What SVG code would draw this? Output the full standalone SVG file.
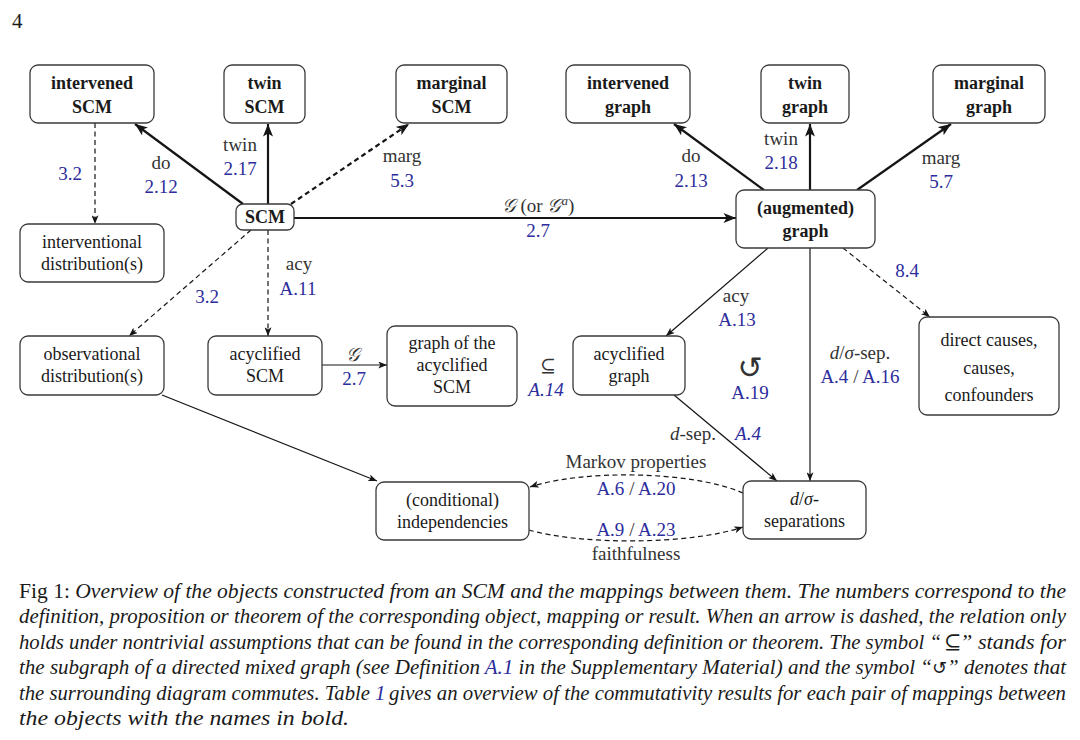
<svg xmlns="http://www.w3.org/2000/svg" width="1080" height="740" viewBox="0 0 1080 740">
<style>
.box{fill:#fff;stroke:#3a3a3a;stroke-width:1.3}
.t{font-family:"Liberation Serif","DejaVu Serif",serif;font-size:18px;fill:#1a1a1a;text-anchor:middle}
.b{font-weight:bold}
.lab{font-family:"Liberation Serif","DejaVu Serif",serif;font-size:19px;fill:#333;text-anchor:middle}
.num{fill:#2c2c9c}
.it{font-style:italic}
.e{stroke:#151515;fill:none;stroke-width:1.2}
.ek{stroke-width:2.2}
.d{stroke-dasharray:5 3.5}
.cap{font-family:"Liberation Serif","DejaVu Serif",serif;font-size:21px;fill:#1a1a1a;font-style:italic}
.cap.num{fill:#2c2c9c}
</style>
<defs>
<marker id="a" viewBox="0 0 10 8" refX="10" refY="4" markerWidth="9" markerHeight="7" markerUnits="userSpaceOnUse" orient="auto"><path d="M0,0 L10,4 L0,8 L2.5,4z" fill="#151515"/></marker>
<marker id="ak" viewBox="0 0 10 8" refX="10" refY="4" markerWidth="13" markerHeight="10" markerUnits="userSpaceOnUse" orient="auto"><path d="M0,0 L10,4 L0,8 L2.5,4z" fill="#151515"/></marker>
</defs>
<rect width="1080" height="740" fill="#fff"/>
<text x="12" y="28" style="font-family:'Liberation Serif',serif;font-size:21px;fill:#1a1a1a">4</text>

<g id="connectors">
<line class="e ek" x1="243" y1="204" x2="135" y2="124" marker-end="url(#ak)"/>
<line class="e ek" x1="268" y1="204" x2="268" y2="124" marker-end="url(#ak)"/>
<line class="e ek d" x1="291" y1="204" x2="409" y2="124" marker-end="url(#ak)"/>
<line class="e ek" x1="294" y1="218" x2="736" y2="218" marker-end="url(#ak)"/>
<line class="e ek" x1="764" y1="190" x2="674" y2="124" marker-end="url(#ak)"/>
<line class="e ek" x1="810" y1="190" x2="810" y2="124" marker-end="url(#ak)"/>
<line class="e ek" x1="857" y1="190" x2="951" y2="124" marker-end="url(#ak)"/>
<line class="e d" x1="95" y1="123" x2="95" y2="224" marker-end="url(#a)"/>
<line class="e d" x1="251" y1="230" x2="129" y2="336" marker-end="url(#a)"/>
<line class="e d" x1="268" y1="230" x2="268" y2="336" marker-end="url(#a)"/>
<line class="e" x1="322" y1="365" x2="387" y2="365" marker-end="url(#a)"/>
<line class="e" x1="162" y1="395" x2="377" y2="481" marker-end="url(#a)"/>
<line class="e" x1="768" y1="248" x2="666" y2="336" marker-end="url(#a)"/>
<line class="e" x1="810" y1="248" x2="810" y2="481" marker-end="url(#a)"/>
<line class="e d" x1="843" y1="248" x2="930" y2="317" marker-end="url(#a)"/>
<line class="e" x1="674" y1="395" x2="777" y2="481" marker-end="url(#a)"/>
<path class="e d" d="M743,493 C690,470 580,470 530,487" marker-end="url(#a)"/>
<path class="e d" d="M529,530 C580,545 690,545 743,527" marker-end="url(#a)"/>
</g>

<g id="edge-labels">
<text class="lab num" x="70" y="180">3.2</text>
<text class="lab" x="161" y="169">do</text>
<text class="lab num" x="161" y="193">2.12</text>
<text class="lab" x="240" y="151">twin</text>
<text class="lab num" x="240" y="175">2.17</text>
<text class="lab" x="402" y="162">marg</text>
<text class="lab num" x="402" y="187">5.3</text>
<text class="lab" x="538" y="212"><tspan class="it">𝒢</tspan> (or <tspan class="it">𝒢</tspan><tspan class="it" dy="-7" font-size="13">a</tspan><tspan dy="7">)</tspan></text>
<text class="lab num" x="538" y="237">2.7</text>
<text class="lab" x="299" y="270">acy</text>
<text class="lab num" x="298" y="295">A.11</text>
<text class="lab num" x="207" y="303">3.2</text>
<text class="lab" x="353" y="361"><tspan class="it">𝒢</tspan></text>
<text class="lab num" x="354" y="385">2.7</text>
<text class="lab" x="548" y="372">⊆</text>
<text class="lab num it" x="546" y="396">A.14</text>
<text class="lab" x="736" y="302">acy</text>
<text class="lab num" x="737" y="326">A.13</text>
<text class="lab" x="750" y="378" style="font-family:'DejaVu Sans',sans-serif;font-size:30px">↺</text>
<text class="lab num" x="750" y="399">A.19</text>
<text class="lab" x="860" y="359"><tspan class="it">d</tspan>/<tspan class="it">σ</tspan>-sep.</text>
<text class="lab" x="860" y="383"><tspan class="num">A.4</tspan> / <tspan class="num">A.16</tspan></text>
<text class="lab num" x="907" y="277">8.4</text>
<text class="lab" x="691" y="162">do</text>
<text class="lab num" x="691" y="187">2.13</text>
<text class="lab" x="781" y="145">twin</text>
<text class="lab num" x="781" y="169">2.18</text>
<text class="lab" x="941" y="164">marg</text>
<text class="lab num" x="941" y="188">5.7</text>
<text class="lab" x="693" y="440"><tspan class="it">d</tspan>-sep.</text>
<text class="lab num it" x="748" y="440">A.4</text>
<text class="lab" x="636" y="468">Markov properties</text>
<text class="lab" x="636" y="495"><tspan class="num">A.6</tspan> / <tspan class="num">A.20</tspan></text>
<text class="lab" x="636" y="536"><tspan class="num">A.9</tspan> / <tspan class="num">A.23</tspan></text>
<text class="lab" x="636" y="560">faithfulness</text>
</g>

<g id="intervened-scm"><rect class="box" x="30" y="65" width="124" height="58" rx="8"/><text class="t b" x="92" y="89">intervened</text><text class="t b" x="92" y="113">SCM</text></g>
<g id="twin-scm"><rect class="box" x="224" y="65" width="81" height="58" rx="8"/><text class="t b" x="264.5" y="89">twin</text><text class="t b" x="264.5" y="113">SCM</text></g>
<g id="marginal-scm"><rect class="box" x="396" y="65" width="111" height="58" rx="8"/><text class="t b" x="451.5" y="89">marginal</text><text class="t b" x="451.5" y="113">SCM</text></g>
<g id="scm"><rect class="box" x="236" y="204" width="58" height="26" rx="7"/><text class="t b" x="265" y="223">SCM</text></g>
<g id="interventional"><rect class="box" x="20" y="224" width="144" height="58" rx="8"/><text class="t" x="92" y="248">interventional</text><text class="t" x="92" y="270">distribution(s)</text></g>
<g id="intervened-graph"><rect class="box" x="566" y="65" width="124" height="58" rx="8"/><text class="t b" x="628" y="89">intervened</text><text class="t b" x="628" y="113">graph</text></g>
<g id="twin-graph"><rect class="box" x="761" y="65" width="88" height="58" rx="8"/><text class="t b" x="805" y="89">twin</text><text class="t b" x="805" y="113">graph</text></g>
<g id="marginal-graph"><rect class="box" x="933" y="65" width="112" height="58" rx="8"/><text class="t b" x="989" y="89">marginal</text><text class="t b" x="989" y="113">graph</text></g>
<g id="augmented-graph"><rect class="box" x="736" y="190" width="139" height="58" rx="8"/><text class="t b" x="805.5" y="214">(augmented)</text><text class="t b" x="805.5" y="237">graph</text></g>
<g id="observational"><rect class="box" x="20" y="336" width="144" height="59" rx="8"/><text class="t" x="92" y="360">observational</text><text class="t" x="92" y="382">distribution(s)</text></g>
<g id="acyclified-scm"><rect class="box" x="208" y="336" width="114" height="59" rx="8"/><text class="t" x="265" y="360">acyclified</text><text class="t" x="265" y="382">SCM</text></g>
<g id="graph-of-acyclified"><rect class="box" x="387" y="326" width="130" height="80" rx="8"/><text class="t" x="452" y="349">graph of the</text><text class="t" x="452" y="371">acyclified</text><text class="t" x="452" y="393">SCM</text></g>
<g id="acyclified-graph"><rect class="box" x="573" y="336" width="112" height="59" rx="8"/><text class="t" x="629" y="360">acyclified</text><text class="t" x="629" y="382">graph</text></g>
<g id="direct-causes"><rect class="box" x="919" y="317" width="140" height="98" rx="8"/><text class="t" x="989" y="346">direct causes,</text><text class="t" x="989" y="374">causes,</text><text class="t" x="989" y="401">confounders</text></g>
<g id="independencies"><rect class="box" x="376" y="482" width="153" height="58" rx="8"/><text class="t" x="452.5" y="506">(conditional)</text><text class="t" x="452.5" y="528">independencies</text></g>
<g id="separations"><rect class="box" x="743" y="481" width="123" height="58" rx="8"/><text class="t" x="804.5" y="505"><tspan class="it">d</tspan>/<tspan class="it">σ</tspan>-</text><text class="t" x="804.5" y="527">separations</text></g>

<g id="caption">
<text class="cap" x="19" y="598" textLength="1047" lengthAdjust="spacingAndGlyphs"><tspan font-style="normal">Fig 1: </tspan>Overview of the objects constructed from an SCM and the mappings between them. The numbers correspond to the</text>
<text class="cap" x="19" y="623" textLength="1047" lengthAdjust="spacingAndGlyphs">definition, proposition or theorem of the corresponding object, mapping or result. When an arrow is dashed, the relation only</text>
<text class="cap" x="19" y="649" textLength="922" lengthAdjust="spacingAndGlyphs">holds under nontrivial assumptions that can be found in the corresponding definition or theorem. The symbol “</text>
<text class="cap" x="944" y="649" font-style="normal" font-size="18">⊆</text>
<text class="cap" x="960" y="649" textLength="106" lengthAdjust="spacingAndGlyphs">” stands for</text>
<text class="cap" x="19" y="674" textLength="1047" lengthAdjust="spacingAndGlyphs">the subgraph of a directed mixed graph (see Definition <tspan class="num">A.1</tspan> in the Supplementary Material) and the symbol “<tspan font-style="normal" style="font-family:'DejaVu Sans',sans-serif;font-size:18px">↺</tspan>” denotes that</text>
<text class="cap" x="19" y="700" textLength="351" lengthAdjust="spacingAndGlyphs">the surrounding diagram commutes. Table</text>
<text class="cap num" x="375" y="700">1</text>
<text class="cap" x="389" y="700" textLength="677" lengthAdjust="spacingAndGlyphs">gives an overview of the commutativity results for each pair of mappings between</text>
<text class="cap" x="19" y="725" textLength="330" lengthAdjust="spacingAndGlyphs">the objects with the names in bold.</text>
</g>
</svg>
